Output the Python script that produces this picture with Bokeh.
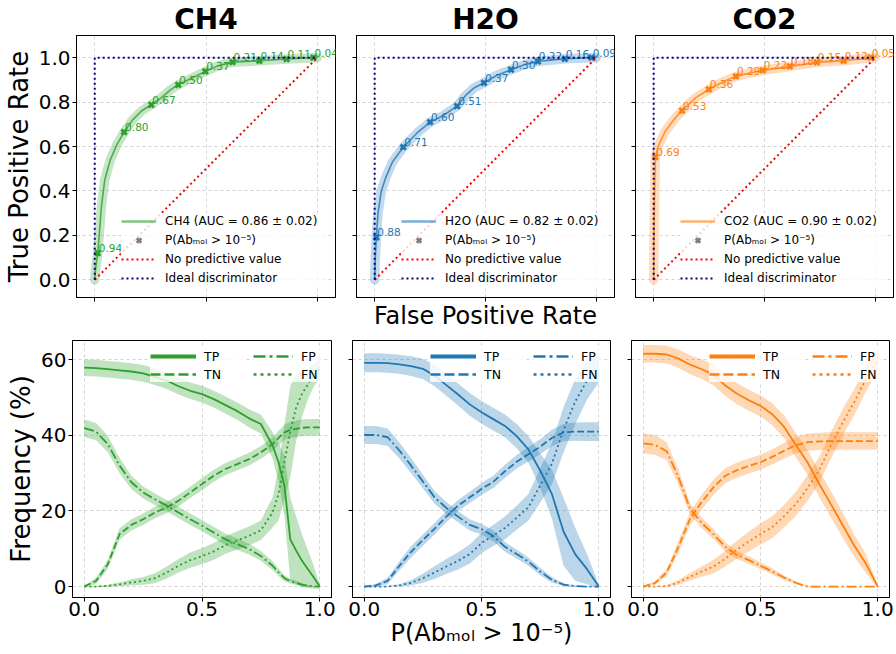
from bokeh.plotting import figure
from bokeh.layouts import column, row
from bokeh.models import Legend, LegendItem, FixedTicker, Range1d, ColumnDataSource
from bokeh.core.properties import value
from bokeh.embed import file_html
from bokeh.resources import INLINE

FONT = "DejaVu Sans"

# ---------------- data ----------------
gases = ["CH4", "H2O", "CO2"]
colors = ["#2ca02c", "#1f77b4", "#ff7f0e"]
auc_mean = [0.86, 0.82, 0.90]
auc_std = [0.02, 0.02, 0.02]
marker_label = "P(Abₘₒₗ > 10⁻⁵)"

# ROC curves
ch4_fpr = [0, 0.004, 0.0135, 0.02, 0.03, 0.045, 0.07, 0.1, 0.132, 0.17, 0.21, 0.254, 0.3, 0.34, 0.375, 0.43, 0.497, 0.55, 0.619, 0.74, 0.862, 0.983, 1.0]
ch4_tpr = [0, 0.05, 0.12, 0.2, 0.33, 0.45, 0.54, 0.61, 0.665, 0.72, 0.76, 0.788, 0.82, 0.855, 0.878, 0.905, 0.938, 0.962, 0.980, 0.986, 0.994, 1.0, 1.0]
h2o_fpr = [0, 0.003, 0.0075, 0.015, 0.03, 0.05, 0.08, 0.129, 0.19, 0.25, 0.31, 0.372, 0.41, 0.45, 0.493, 0.55, 0.615, 0.68, 0.736, 0.858, 0.979, 1.0]
h2o_tpr = [0, 0.1, 0.191, 0.3, 0.40, 0.46, 0.53, 0.597, 0.66, 0.71, 0.74, 0.782, 0.83, 0.865, 0.887, 0.92, 0.946, 0.97, 0.983, 0.995, 1.0, 1.0]
co2_fpr = [0, 0.003, 0.0075, 0.02, 0.05, 0.09, 0.128, 0.19, 0.249, 0.31, 0.371, 0.43, 0.492, 0.614, 0.736, 0.857, 0.979, 1.0]
co2_tpr = [0, 0.3, 0.552, 0.6, 0.665, 0.72, 0.762, 0.82, 0.857, 0.89, 0.916, 0.93, 0.943, 0.961, 0.979, 0.986, 1.0, 1.0]

# threshold markers on the ROC curves
ch4_mk_fpr = [0.0135, 0.132, 0.254, 0.375, 0.497, 0.619, 0.74, 0.862, 0.983]
ch4_mk_tpr = [0.12, 0.665, 0.788, 0.878, 0.938, 0.980, 0.986, 0.994, 1.0]
ch4_mk_lab = ["0.94", "0.80", "0.67", "0.50", "0.37", "0.21", "0.14", "0.11", "0.04"]
h2o_mk_fpr = [0.0075, 0.129, 0.25, 0.372, 0.493, 0.615, 0.736, 0.858, 0.979]
h2o_mk_tpr = [0.191, 0.597, 0.71, 0.782, 0.887, 0.946, 0.983, 0.995, 1.0]
h2o_mk_lab = ["0.88", "0.71", "0.60", "0.51", "0.37", "0.30", "0.22", "0.16", "0.09"]
co2_mk_fpr = [0.0075, 0.128, 0.249, 0.371, 0.492, 0.614, 0.736, 0.857, 0.979]
co2_mk_tpr = [0.552, 0.762, 0.857, 0.916, 0.943, 0.961, 0.979, 0.986, 1.0]
co2_mk_lab = ["0.69", "0.53", "0.36", "0.29", "0.22", "0.18", "0.15", "0.12", "0.05"]

chance_x = [0, 1]
chance_y = [0, 1]
ideal_x = [0, 0, 1]
ideal_y = [0, 1, 1]

# confusion-matrix frequencies (%) vs threshold
ch4_x = [0, .05, .1, .15, .2, .25, .3, .35, .4, .45, .5, .55, .6, .65, .7, .75, .8, .825, .85, .875, .9, .925, .95, .975, 1.0]
ch4_tp = [57.9, 57.8, 57.5, 57.2, 56.9, 56.4, 55.5, 54.5, 53.0, 51.8, 50.9, 49.6, 48.0, 46.4, 44.5, 43.0, 37.3, 32.9, 26.7, 12.5, 9.5, 6.8, 4.6, 2.4, 0]
ch4_tp_err = [2.2, 2.2, 2.2, 2.2, 2.2, 2.2, 2.2, 2.2, 2.2, 2.2, 2.2, 2.2, 2.3, 2.3, 2.4, 2.5, 3.5, 5, 8, 11, 9, 7, 5, 3, 0.5]
ch4_tn = [0, 1.5, 5.9, 13.9, 16.3, 17.8, 19.6, 20.9, 22.7, 24.9, 27.1, 29.3, 31.1, 32.4, 33.7, 35.5, 37.7, 39.3, 40.8, 41.5, 41.7, 42.0, 42.1, 42.1, 42.1]
ch4_tn_err = [0.3, 0.8, 1.2, 1.5, 1.5, 1.5, 1.5, 1.5, 1.5, 1.5, 1.6, 1.6, 1.6, 1.6, 1.7, 1.7, 1.8, 1.9, 2.0, 2.1, 2.2, 2.2, 2.2, 2.2, 2.2]
ch4_fp = [41.9, 41.0, 37.7, 32.0, 27.6, 24.9, 23.1, 21.4, 19.6, 17.8, 16.1, 14.3, 12.5, 11.2, 9.9, 8.1, 5.5, 3.8, 2.2, 1.4, 1.0, 0.5, 0.2, 0.05, 0]
ch4_fp_err = [2.3, 2.3, 2.2, 2.0, 1.8, 1.6, 1.5, 1.5, 1.5, 1.5, 1.5, 1.5, 1.5, 1.5, 1.4, 1.3, 1.2, 1.0, 0.8, 0.6, 0.5, 0.4, 0.3, 0.1, 0]
ch4_fn = [0, 0, 0.2, 0.6, 1.1, 1.5, 2.2, 3.7, 5.5, 7.0, 8.0, 9.3, 11.0, 12.2, 13.4, 14.9, 19.6, 24.5, 32.9, 41.0, 47.5, 51.0, 53.5, 56.0, 57.5]
ch4_fn_err = [0, 0.1, 0.3, 0.5, 0.8, 1.0, 1.3, 1.6, 1.8, 2.0, 2.1, 2.2, 2.3, 2.4, 2.5, 2.6, 4, 7, 10, 12, 9, 6, 4, 3, 2.5]

h2o_x = [0, .05, .1, .15, .2, .25, .3, .35, .4, .45, .5, .55, .6, .65, .7, .75, .8, .85, .9, .95, 1.0]
h2o_tp = [59.2, 59.2, 59.1, 58.8, 58.3, 57.6, 55.8, 53.3, 50.8, 48.2, 46.1, 44.3, 42.5, 39.8, 36.3, 30.7, 24.5, 14.5, 8.5, 4.6, 0]
h2o_tp_err = [2.5, 2.5, 2.5, 2.5, 2.6, 2.7, 2.8, 2.8, 2.9, 3.0, 3.0, 3.0, 3.0, 3.2, 3.5, 4.5, 6.5, 9, 7, 4, 0.5]
h2o_tn = [0, 0.3, 1.5, 5.5, 9.2, 12.3, 15.3, 18.5, 21.4, 23.6, 25.8, 27.7, 30.5, 33.0, 35.0, 37.0, 39.3, 40.8, 41.0, 41.0, 41.0]
h2o_tn_err = [0.2, 0.4, 0.8, 1.2, 1.5, 1.5, 1.5, 1.5, 1.5, 1.5, 1.6, 1.6, 1.7, 1.8, 1.9, 2.0, 2.2, 2.3, 2.4, 2.5, 2.5]
h2o_fp = [40.1, 40.1, 39.5, 36.0, 32.0, 27.8, 23.6, 20.8, 18.5, 16.3, 15.2, 13.4, 10.5, 8.6, 6.6, 4.0, 1.8, 0.5, 0.1, 0, 0]
h2o_fp_err = [2.4, 2.4, 2.3, 2.1, 2.0, 1.8, 1.7, 1.6, 1.5, 1.5, 1.4, 1.4, 1.3, 1.2, 1.1, 1.0, 0.7, 0.4, 0.2, 0.1, 0]
h2o_fn = [0, 0, 0, 0.3, 1.0, 2.2, 3.7, 5.3, 6.8, 8.6, 11.5, 13.5, 15.5, 18.2, 21.0, 26.7, 32.5, 41.5, 49.0, 54.5, 58.0]
h2o_fn_err = [0, 0, 0.1, 0.3, 0.7, 1.2, 1.7, 2.0, 2.3, 2.5, 2.7, 2.8, 3.0, 3.2, 3.5, 4.5, 5.5, 6, 6, 5, 4]

co2_x = [0, .05, .1, .15, .2, .25, .3, .35, .4, .45, .5, .55, .6, .65, .7, .75, .8, .85, .9, .95, 1.0]
co2_tp = [61.6, 61.6, 61.4, 60.3, 58.7, 57.5, 56.0, 53.2, 51.0, 49.3, 47.8, 45.6, 42.3, 37.5, 32.9, 27.2, 21.8, 16.3, 10.8, 6.0, 0]
co2_tp_err = [2.3, 2.3, 2.3, 2.4, 2.5, 2.6, 2.8, 2.8, 2.8, 2.8, 2.8, 2.9, 3.0, 3.2, 3.3, 3.5, 3.5, 3.3, 3.0, 2.5, 0.5]
co2_tn = [0, 0.9, 3.7, 10.5, 18.0, 22.4, 26.3, 29.3, 30.8, 31.9, 32.9, 34.3, 35.9, 37.4, 38.2, 38.4, 38.5, 38.5, 38.5, 38.5, 38.5]
co2_tn_err = [0.2, 0.5, 1.0, 1.5, 1.8, 2.0, 2.0, 2.0, 2.0, 2.0, 2.0, 2.0, 2.1, 2.2, 2.3, 2.3, 2.3, 2.3, 2.3, 2.3, 2.3]
co2_fp = [37.9, 37.5, 35.8, 29.0, 20.5, 16.8, 13.8, 10.5, 8.3, 7.0, 5.5, 4.0, 2.4, 1.0, 0, 0, 0, 0, 0, 0, 0]
co2_fp_err = [2.6, 2.6, 2.4, 2.0, 1.6, 1.4, 1.3, 1.2, 1.1, 1.0, 0.9, 0.8, 0.6, 0.4, 0.1, 0, 0, 0, 0, 0, 0]
co2_fn = [0, 0, 0.1, 1.1, 2.6, 4.0, 5.3, 7.4, 9.8, 11.9, 13.9, 15.7, 18.6, 21.8, 26.0, 30.8, 37.3, 43.4, 48.8, 55.0, 59.8]
co2_fn_err = [0, 0, 0.2, 0.6, 1.0, 1.4, 1.8, 2.1, 2.4, 2.6, 2.8, 2.9, 3.0, 3.2, 3.4, 3.5, 3.5, 3.5, 3.5, 3.3, 3.0]

series_names = ["TP", "TN", "FP", "FN"]

roc_xticks = [0, 0.5, 1]
roc_yticks = [0, 0.2, 0.4, 0.6, 0.8, 1.0]
roc_ytick_labels = ["0.0", "0.2", "0.4", "0.6", "0.8", "1.0"]
freq_xticks = [0, 0.5, 1]
freq_xtick_labels = ["0.0", "0.5", "1.0"]
freq_yticks = [0, 20, 40, 60]
freq_ytick_labels = ["0", "20", "40", "60"]

roc = {
    "CH4": (ch4_fpr, ch4_tpr, ch4_mk_fpr, ch4_mk_tpr, ch4_mk_lab),
    "H2O": (h2o_fpr, h2o_tpr, h2o_mk_fpr, h2o_mk_tpr, h2o_mk_lab),
    "CO2": (co2_fpr, co2_tpr, co2_mk_fpr, co2_mk_tpr, co2_mk_lab),
}
freq = {
    "CH4": (ch4_x, [(ch4_tp, ch4_tp_err), (ch4_tn, ch4_tn_err), (ch4_fp, ch4_fp_err), (ch4_fn, ch4_fn_err)]),
    "H2O": (h2o_x, [(h2o_tp, h2o_tp_err), (h2o_tn, h2o_tn_err), (h2o_fp, h2o_fp_err), (h2o_fn, h2o_fn_err)]),
    "CO2": (co2_x, [(co2_tp, co2_tp_err), (co2_tn, co2_tn_err), (co2_fp, co2_fp_err), (co2_fn, co2_fn_err)]),
}

# ---------------- styling helpers ----------------
plot_dash = ["solid", "7 3", "10 3 2 3", "2 3"]
legend_dash = ["solid", "10 4", "12 4 3 4", "3 4"]
legend_width = [4, 2.5, 2.5, 2.5]


def hide_labels(ax):
    ax.major_label_text_font_size = "0px"
    ax.major_label_text_color = None
    ax.major_label_text_alpha = 0


def make_fig(col, xr, yr, top, bottom, fh):
    left = 72 if col == 0 else 13
    right = 8 if col < 2 else 7
    fw = 259 if col == 0 else 258
    p = figure(frame_width=fw, frame_height=fh,
               x_range=Range1d(*xr), y_range=Range1d(*yr),
               min_border_left=left, min_border_right=right,
               min_border_top=top, min_border_bottom=bottom,
               toolbar_location=None, tools="", output_backend="svg")
    # range used only by the legend-sample renderers (kept outside the frame)
    p.extra_y_ranges = {"legend_only": Range1d(1000, 1001)}
    p.background_fill_color = "white"
    p.border_fill_color = "white"
    p.outline_line_color = "black"
    p.outline_line_width = 1
    p.outline_line_alpha = 1
    for ax in (p.xaxis[0], p.yaxis[0]):
        ax.axis_line_color = "black"
        ax.major_tick_line_color = "black"
        ax.major_tick_in = 0
        ax.major_tick_out = 4
        ax.minor_tick_line_color = None
        ax.major_label_text_font = FONT
        ax.major_label_text_font_size = "20px"
        ax.major_label_text_color = "black"
        ax.axis_label_text_font = FONT
        ax.axis_label_text_font_style = "normal"
        ax.axis_label_text_color = "black"
    p.xaxis.major_label_standoff = 0
    p.yaxis.major_label_standoff = 2
    p.xaxis.axis_label_standoff = 0
    p.yaxis.axis_label_standoff = 2
    p.grid.grid_line_color = "#b0b0b0"
    p.grid.grid_line_alpha = 0.7
    p.grid.grid_line_width = 0.8
    p.grid.grid_line_dash = "3 3"
    return p


top_figs = []
bot_figs = []
for i, g in enumerate(gases):
    c = colors[i]
    fpr, tpr, mfpr, mtpr, mlab = roc[g]
    p = make_fig(i, (-0.082, 1.082), (-0.08, 1.10), 33, 38, 262)
    p.title.text = g
    p.title.text_font = FONT
    p.title.text_font_size = "28px"
    p.title.text_font_style = "bold"
    p.title.text_color = "black"
    p.title.align = "center"
    p.title.standoff = 0
    p.xaxis.ticker = FixedTicker(ticks=roc_xticks)
    p.yaxis.ticker = FixedTicker(ticks=roc_yticks)
    hide_labels(p.xaxis[0])
    if i == 0:
        p.yaxis.major_label_overrides = dict(zip(roc_yticks, roc_ytick_labels))
        p.yaxis.axis_label = "True Positive Rate"
        p.yaxis.axis_label_text_font_size = "26px"
    else:
        hide_labels(p.yaxis[0])
    if i == 1:
        p.xaxis.axis_label = "False Positive Rate"
        p.xaxis.axis_label_text_font_size = "24px"

    p.line(fpr, tpr, line_color=c, line_alpha=0.27, line_width=9.5,
           line_join="round", line_cap="round")
    p.line(fpr, tpr, line_color=c, line_alpha=0.8, line_width=1.6)
    p.scatter(mfpr, mtpr, marker="x", size=7.5, line_width=2.8, color=c)
    src = ColumnDataSource(dict(x=mfpr, y=mtpr, t=mlab))
    p.text(x="x", y="y", text="t", source=src, text_color=c,
           text_font=value(FONT), text_font_size="10.5px",
           x_offset=1, y_offset=-5, text_baseline="alphabetic", text_align="left")
    r_diag = p.line(chance_x, chance_y, line_color="red", line_dash="2 3", line_width=2)
    r_ideal = p.line(ideal_x, ideal_y, line_color="navy", line_dash="2 3", line_width=2)

    # legend samples (drawn on an off-frame range, so only the legend shows them)
    lg_line = p.line(fpr, tpr, y_range_name="legend_only",
                     line_color=c, line_alpha=0.6, line_width=2.5)
    lg_mk = p.scatter(mfpr, mtpr, y_range_name="legend_only",
                      marker="x", size=7.5, line_width=2.8, color="gray")
    leg = Legend(items=[
        LegendItem(label=f"{g} (AUC = {auc_mean[i]:.2f} ± {auc_std[i]:.2f})", renderers=[lg_line]),
        LegendItem(label=marker_label, renderers=[lg_mk]),
        LegendItem(label="No predictive value", renderers=[r_diag]),
        LegendItem(label="Ideal discriminator", renderers=[r_ideal]),
    ], location=(45, 11))
    leg.label_text_font = FONT
    leg.label_text_font_size = "12px"
    leg.label_text_color = "black"
    leg.glyph_width = 35
    leg.glyph_height = 16
    leg.label_height = 16
    leg.label_width = 160
    leg.label_standoff = 9
    leg.spacing = 3
    leg.padding = 2
    leg.margin = 0
    leg.background_fill_color = "white"
    leg.background_fill_alpha = 0.8
    leg.border_line_color = None
    p.add_layout(leg)
    top_figs.append(p)

    # ---- frequency panel ----
    x, curves = freq[g]
    q = make_fig(i, (-0.05, 1.05), (-2.9, 65.1), 5, 59, 257)
    q.xaxis.ticker = FixedTicker(ticks=freq_xticks)
    q.yaxis.ticker = FixedTicker(ticks=freq_yticks)
    q.xaxis.major_label_overrides = dict(zip(freq_xticks, freq_xtick_labels))
    if i == 0:
        q.yaxis.major_label_overrides = dict(zip(freq_yticks, freq_ytick_labels))
        q.yaxis.axis_label = "Frequency (%)"
        q.yaxis.axis_label_text_font_size = "26px"
    else:
        hide_labels(q.yaxis[0])
    if i == 1:
        q.xaxis.axis_label = marker_label
        q.xaxis.axis_label_text_font_size = "24px"
    lrs = []
    for k, (m, e) in enumerate(curves):
        lo = [a - b for a, b in zip(m, e)]
        hi = [a + b for a, b in zip(m, e)]
        q.varea(x=x, y1=lo, y2=hi, fill_color=c, fill_alpha=0.3)
        q.line(x, m, line_color=c, line_width=1.8, line_dash=plot_dash[k])
        lrs.append(q.line(x, m, y_range_name="legend_only", line_color=c,
                          line_width=legend_width[k], line_dash=legend_dash[k]))
    for cols_items, loc, gw, lw in (([0, 1], (78, 215), 46, 40), ([2, 3], (181, 215), 40, 20)):
        lg = Legend(items=[LegendItem(label=series_names[k], renderers=[lrs[k]]) for k in cols_items],
                    location=loc)
        lg.label_text_font = FONT
        lg.label_text_font_size = "12.5px"
        lg.label_text_color = "black"
        lg.glyph_width = gw
        lg.glyph_height = 16
        lg.label_height = 16
        lg.label_width = lw
        lg.label_standoff = 8
        lg.spacing = 2
        lg.padding = 5
        lg.margin = 0
        lg.background_fill_color = "white"
        lg.background_fill_alpha = 0.8
        lg.border_line_color = None
        q.add_layout(lg)
    bot_figs.append(q)

layout = column(row(*top_figs), row(*bot_figs))
open("out.html", "w").write(file_html(layout, INLINE))
